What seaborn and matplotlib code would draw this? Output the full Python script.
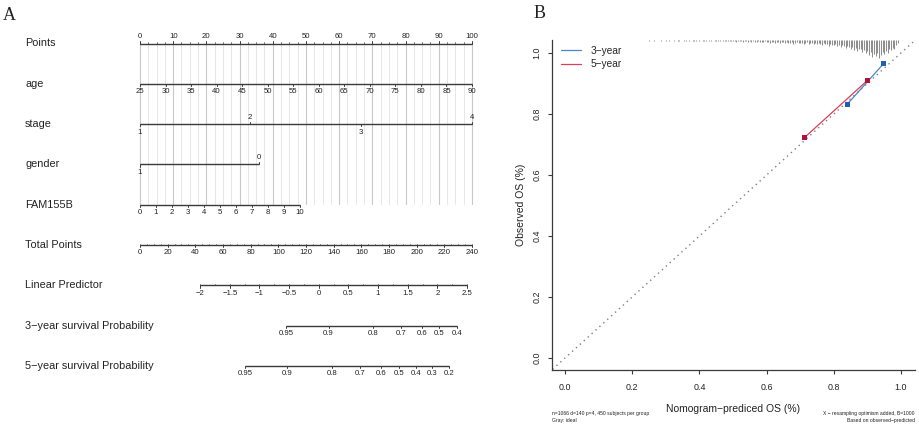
import numpy as np
import pandas as pd
import matplotlib
matplotlib.use("Agg")
import matplotlib.pyplot as plt
import seaborn as sns

sns.set_theme(style="ticks")
plt.rcParams["font.family"] = ["Liberation Sans", "DejaVu Sans"]

# ---------------- nomogram (panel A); positions are on the 0-100 "Points" scale
ROW_NAMES = ["Points", "age", "stage", "gender", "FAM155B", "Total Points",
             "Linear Predictor", "3\u2212year survival Probability",
             "5\u2212year survival Probability"]

points_ticks = list(range(0, 101, 10))
age_ticks = list(range(25, 91, 5))
age_range = (25, 90)
stage_levels = ["1", "2", "3", "4"]
stage_pos = [0.0, 33.1, 66.6, 100.0]
gender_levels = ["1", "0"]
gender_pos = [0.0, 35.8]
fam_ticks = list(range(0, 11))
fam_end = 48.2
total_ticks = list(range(0, 241, 20))
total_max = 240
lp_ticks = [-2, -1.5, -1, -0.5, 0, 0.5, 1, 1.5, 2, 2.5]
lp_pos_ends = (18.1, 98.5)
surv3_labels = ["0.95", "0.9", "0.8", "0.7", "0.6", "0.5", "0.4"]
surv3_pos = [44.0, 56.8, 70.2, 78.6, 84.9, 90.0, 95.5]
surv5_labels = ["0.95", "0.9", "0.8", "0.7", "0.6", "0.5", "0.4", "0.3", "0.2"]
surv5_pos = [31.6, 44.4, 57.8, 66.3, 72.7, 77.9, 83.1, 88.0, 93.2]

# ---------------- calibration (panel B)
cal3_pred = [0.840, 0.949]
cal3_obs = [0.832, 0.966]
cal5_pred = [0.714, 0.901]
cal5_obs = [0.724, 0.911]

hist_start = 0.25
hist_width = 0.005
hist_counts = [
    1, 0, 0, 1, 0, 0, 0, 1, 0, 0,
    1, 0, 1, 0, 0, 1, 0, 1, 1, 0,
    0, 1, 1, 0, 1, 0, 1, 1, 1, 0,
    1, 0, 1, 1, 1, 0, 1, 1, 0, 1,
    1, 1, 1, 0, 1, 1, 1, 1, 1, 1,
    1, 1, 2, 1, 1, 1, 2, 1, 1, 2,
    1, 2, 1, 2, 2, 1, 2, 2, 2, 1,
    2, 2, 3, 2, 2, 3, 2, 2, 3, 2,
    2, 3, 2, 3, 3, 2, 4, 3, 2, 3,
    3, 3, 4, 3, 2, 4, 3, 3, 4, 3,
    4, 3, 4, 5, 3, 4, 4, 6, 4, 5,
    5, 4, 6, 5, 7, 5, 6, 8, 6, 7,
    9, 7, 11, 8, 12, 10, 9, 13, 11, 14,
    12, 16, 13, 18, 15, 17, 14, 19, 16, 13,
    15, 12, 14, 10, 11, 8, 9, 5, 3,
]

FOOT_LEFT = "n=1066 d=140 p=4, 450 subjects per group\nGray: ideal"
FOOT_RIGHT = "X \u2212 resampling optimism added, B=1000\nBased on observed\u2212predicted"

W, H = 920, 428
LINE = "#3a3a3a"
TXT = "#222222"


def lin_map(vals, v0, v1, p0, p1):
    return [p0 + (v - v0) * (p1 - p0) / (v1 - v0) for v in vals]


fig = plt.figure(figsize=(W / 100, H / 100), dpi=100)

# ---------------- panel A
axA = fig.add_axes([0, 0, 480 / W, 1])
PX = 3.32          # px per point
ROW_PX = 40.3
Y0 = 43.5
axA.set_xlim(-140 / PX, (480 - 140) / PX)
axA.set_ylim((H - Y0) / ROW_PX, -Y0 / ROW_PX)
axA.axis("off")

UP = -7.0 / ROW_PX
DOWN = 8.0 / ROW_PX
TK = 2.2 / ROW_PX
TKM = 1.3 / ROW_PX


def draw_scale(row, pos, labels, sides, minor=()):
    axA.plot([min(pos), max(pos)], [row, row], color=LINE, lw=1.0,
             solid_capstyle="butt", zorder=3)
    for p, lab, side in zip(pos, labels, sides):
        d = -1 if side == "up" else 1
        axA.plot([p, p], [row, row + d * TK], color=LINE, lw=0.7, zorder=3)
        axA.text(p, row + (UP if side == "up" else DOWN), lab, ha="center",
                 va="center", fontsize=5.6, color=TXT)
    for p in minor:
        axA.plot([p, p], [row, row - TKM], color=LINE, lw=0.5, zorder=3)


# grid
for g in np.arange(0, 100.1, 2.5):
    major = abs(g % 10) < 1e-9
    axA.plot([g, g], [0, 3.98], color="#c8c8c8" if major else "#e3e3e3",
             lw=0.8 if major else 0.6, zorder=1)

for i, name in enumerate(ROW_NAMES):
    axA.text((25 - 140) / PX, i, name, ha="left", va="center", fontsize=7.8, color=TXT)

draw_scale(0, points_ticks, [str(t) for t in points_ticks], ["up"] * 11,
           minor=np.arange(0, 100.1, 2.5))
draw_scale(1, lin_map(age_ticks, *age_range, 0, 100), [str(t) for t in age_ticks],
           ["down"] * len(age_ticks))
draw_scale(2, stage_pos, stage_levels, ["down", "up", "down", "up"])
draw_scale(3, gender_pos, gender_levels, ["down", "up"])
draw_scale(4, lin_map(fam_ticks, 0, 10, 0, fam_end), [str(t) for t in fam_ticks],
           ["down"] * len(fam_ticks))
draw_scale(5, lin_map(total_ticks, 0, total_max, 0, 100), [str(t) for t in total_ticks],
           ["down"] * len(total_ticks),
           minor=lin_map(np.arange(0, 241, 5), 0, total_max, 0, 100))
lp_lab = [("%g" % t).replace("-", "\u2212") for t in lp_ticks]
draw_scale(6, lin_map(lp_ticks, -2, 2.5, *lp_pos_ends), lp_lab, ["down"] * len(lp_ticks),
           minor=lin_map(np.arange(-2, 2.51, 0.25), -2, 2.5, *lp_pos_ends))
draw_scale(7, surv3_pos, surv3_labels, ["down"] * len(surv3_pos))
draw_scale(8, surv5_pos, surv5_labels, ["down"] * len(surv5_pos))

fig.text(3 / W, 1 - 15 / H, "A", family=["Liberation Serif", "DejaVu Serif"],
         fontsize=13, ha="left", va="center", color=TXT)

# ---------------- panel B
axB = fig.add_axes([552 / W, (H - 370) / H, 363 / W, 330 / H])
xlo, xhi = -0.0387, 1.0417
ylo, yhi = -0.0393, 1.0426
axB.set_xlim(xlo, xhi)
axB.set_ylim(ylo, yhi)

axB.plot([-0.2, 1.2], [-0.2, 1.2], color="#808080", lw=1.0, ls=(0, (1, 2.8)), zorder=1)

hist_x = hist_start + hist_width * np.arange(len(hist_counts))
hist_h = np.array(hist_counts) * 0.0031
keep = hist_h > 0
axB.vlines(hist_x[keep], yhi - hist_h[keep], yhi, color="#8e8e8e", lw=0.75, zorder=2)

cal = pd.DataFrame({
    "pred": cal3_pred + cal5_pred,
    "obs": cal3_obs + cal5_obs,
    "group": ["3\u2212year"] * len(cal3_pred) + ["5\u2212year"] * len(cal5_pred),
})
line_pal = {"3\u2212year": "#4a86c8", "5\u2212year": "#d8405a"}
pt_pal = {"3\u2212year": "#1f5fb4", "5\u2212year": "#b0123c"}
sns.lineplot(data=cal, x="pred", y="obs", hue="group", palette=line_pal, sort=False,
             lw=0.9, ax=axB, zorder=3)
sns.scatterplot(data=cal, x="pred", y="obs", hue="group", palette=pt_pal, marker="s",
                s=14, linewidth=0, legend=False, ax=axB, zorder=4)

handles, labels = axB.get_legend_handles_labels()
axB.legend(handles, labels, frameon=False, loc="upper left",
           bbox_to_anchor=(9 / 363, 0.982), borderaxespad=0, borderpad=0,
           fontsize=7.3, handlelength=2.0, handletextpad=0.9, labelspacing=0.35)

ticks = [0.0, 0.2, 0.4, 0.6, 0.8, 1.0]
tlab = ["%.1f" % t for t in ticks]
axB.set_xticks(ticks)
axB.set_xticklabels(tlab)
axB.set_yticks(ticks)
axB.set_yticklabels(tlab, rotation=90, va="center")
axB.tick_params(direction="out", length=2.9, width=0.8, color=LINE, labelsize=6.4,
                labelcolor=TXT)
axB.tick_params(axis="x", pad=6.8)
axB.tick_params(axis="y", pad=4.7)
sns.despine(ax=axB)
for s in ("left", "bottom"):
    axB.spines[s].set_color(LINE)
    axB.spines[s].set_linewidth(0.9)
axB.set_xlabel("Nomogram\u2212prediced OS (%)", fontsize=7.5, color=TXT, labelpad=8.6)
axB.set_ylabel("Observed OS (%)", fontsize=7.5, color=TXT, labelpad=4.3)

fig.text(552 / W, 1 - 417 / H, FOOT_LEFT, fontsize=3.6, ha="left", va="center",
         color=TXT, linespacing=1.3)
fig.text(915 / W, 1 - 417 / H, FOOT_RIGHT, fontsize=3.6, ha="right", va="center",
         color=TXT, linespacing=1.3, multialignment="right")
fig.text(534 / W, 1 - 14 / H, "B", family=["Liberation Serif", "DejaVu Serif"],
         fontsize=13, ha="left", va="center", color=TXT)

fig.savefig("out.png", dpi=100)
